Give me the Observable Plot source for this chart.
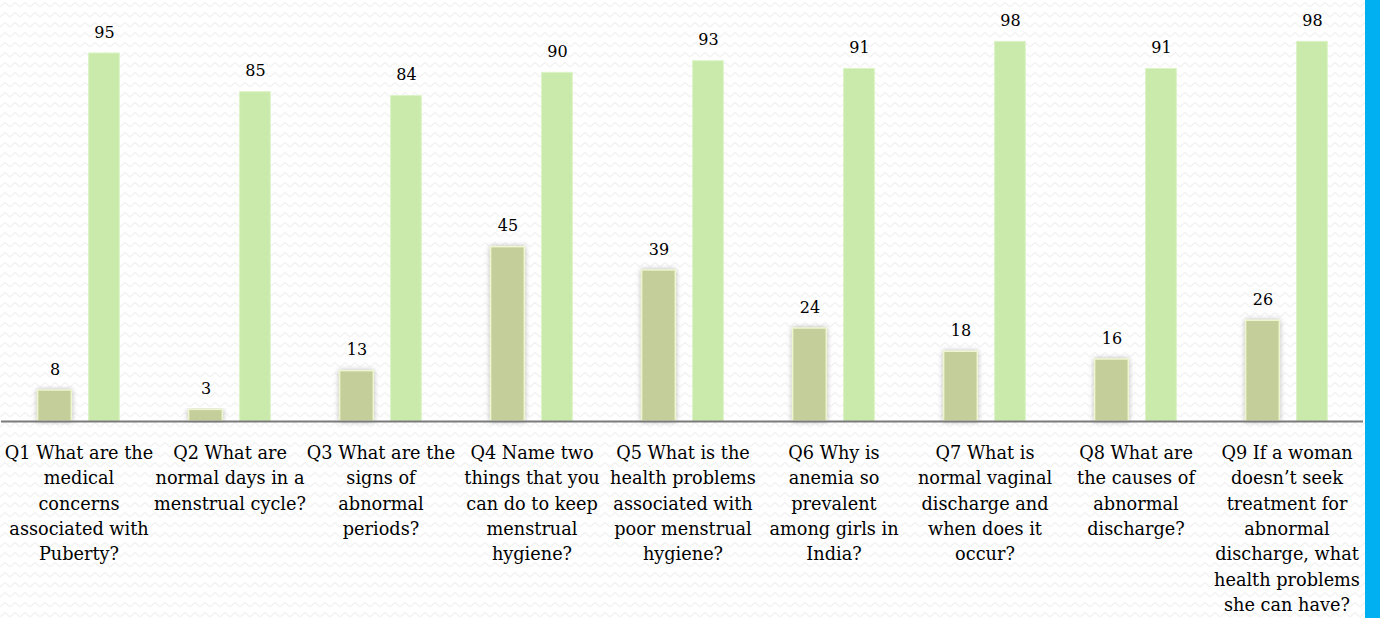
<!DOCTYPE html>
<html>
<head>
<meta charset="utf-8">
<script src="https://cdn.jsdelivr.net/npm/d3@7"></script>
<script src="https://cdn.jsdelivr.net/npm/@observablehq/plot@0.6"></script>
<style>
  html, body { margin: 0; padding: 0; }
  body {
    width: 1380px; height: 618px; overflow: hidden; position: relative;
    background-color: #ffffff;
    background-image: url("data:image/svg+xml;utf8,<svg xmlns='http://www.w3.org/2000/svg' width='10' height='10'><polyline points='0,7 5,2.5 10,7' fill='none' stroke='%23f3f3f3' stroke-width='1.6'/></svg>");
  }
  #strip { position: absolute; left: 1365px; top: 0; width: 15px; height: 618px; background: #00b0f0; }
  #chart { position: absolute; left: 0; top: 0; }
</style>
</head>
<body>
<div id="chart"></div>
<div id="strip"></div>
<script>
const questions = ["Q1","Q2","Q3","Q4","Q5","Q6","Q7","Q8","Q9"];
const questionLabels = [
  "Q1 What are the\nmedical\nconcerns\nassociated with\nPuberty?",
  "Q2 What are\nnormal days in a\nmenstrual cycle?",
  "Q3 What are the\nsigns of\nabnormal\nperiods?",
  "Q4 Name two\nthings that you\ncan do to keep\nmenstrual\nhygiene?",
  "Q5 What is the\nhealth problems\nassociated with\npoor menstrual\nhygiene?",
  "Q6 Why is\nanemia so\nprevalent\namong girls in\nIndia?",
  "Q7 What is\nnormal vaginal\ndischarge and\nwhen does it\noccur?",
  "Q8 What are\nthe causes of\nabnormal\ndischarge?",
  "Q9 If a woman\ndoesn’t seek\ntreatment for\nabnormal\ndischarge, what\nhealth problems\nshe can have?"
];
const seriesA = [8, 3, 13, 45, 39, 24, 18, 16, 26];
const seriesB = [95, 85, 84, 90, 93, 91, 98, 91, 98];

const dataA = questions.map((q, i) => ({q, v: seriesA[i]}));
const dataB = questions.map((q, i) => ({q, v: seriesB[i]}));
const labelData = questions.map((q, i) => ({q, label: questionLabels[i]}));

const font = "DejaVu Serif";
const darkFill = "#c3ce9b";
const chart = Plot.plot({
  width: 1365,
  height: 618,
  marginLeft: 1,
  marginRight: 2,
  marginTop: 33.6,
  marginBottom: 197,
  style: {background: "transparent", fontFamily: font, color: "#000"},
  x: {type: "band", domain: questions, padding: 0, axis: null},
  y: {domain: [0, 100], axis: null},
  marks: [
    Plot.barY(dataA, {x: "q", y: "v", fill: darkFill, stroke: "#eef5cf", strokeWidth: 1.5, insetLeft: 34.6, insetRight: 82.7}),
    Plot.barY(dataB, {x: "q", y: "v", fill: "#c9eaab", stroke: "#dcf3c6", strokeWidth: 1, insetLeft: 85.6, insetRight: 34.7}),
    Plot.ruleY([0], {stroke: "#7a7a7a", strokeWidth: 2}),
    Plot.text(dataA, {x: "q", y: "v", text: d => String(d.v), dx: -24, dy: -21, fontSize: 16, fill: "#000"}),
    Plot.text(dataB, {x: "q", y: "v", text: d => String(d.v), dx: 25.4, dy: -21, fontSize: 16, fill: "#000"}),
    Plot.text(labelData, {x: "q", y: () => 0, text: "label", lineAnchor: "top", dy: 19.6, lineHeight: 1.43, fontSize: 17.7, fill: "#000"})
  ]
});

// soft grey shadow around the darker bars
const svg = d3.select(chart);
const defs = svg.insert("defs", ":first-child");
const f = defs.append("filter").attr("id", "barShadow").attr("x", "-40%").attr("y", "-10%").attr("width", "180%").attr("height", "120%");
f.append("feDropShadow").attr("dx", 0).attr("dy", 0).attr("stdDeviation", 2.5).attr("flood-color", "#7a7a7a").attr("flood-opacity", 0.55);
svg.selectAll(`g[fill='${darkFill}'] rect`).attr("filter", "url(#barShadow)");

document.getElementById("chart").appendChild(chart);
</script>
</body>
</html>
